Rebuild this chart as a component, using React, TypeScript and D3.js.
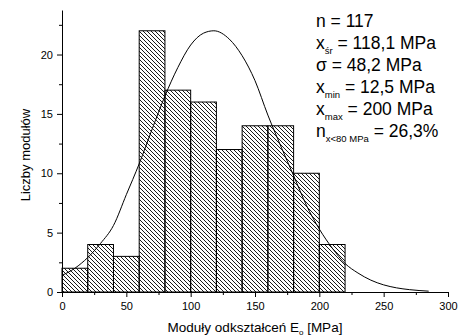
import React, { useEffect, useRef } from "react";
import * as d3 from "d3";

// histogram bins (lower edge, MPa) and counts
const binStarts = [0, 20, 40, 60, 80, 100, 120, 140, 160, 180, 200];
const binWidth = 20;
const counts = [2, 4, 3, 22, 17, 16, 12, 14, 14, 10, 4];

// fitted curve
const curveX = [0, 10, 20, 30, 40, 50, 60, 70, 80, 90, 100, 110, 118, 130, 140, 150, 160, 170, 180, 190, 200, 210, 220, 230, 240, 250, 260, 270, 285];
const curveY = [1.4, 2.0, 2.9, 4.1, 5.6, 8.2, 10.8, 13.7, 16.5, 18.9, 20.8, 21.8, 22.0, 21.3, 19.9, 17.8, 14.9, 12.3, 9.8, 7.3, 5.3, 3.7, 2.4, 1.6, 1.0, 0.6, 0.35, 0.2, 0.07];

const xTicks = [0, 50, 100, 150, 200, 250, 300];
const xMinor = [25, 75, 125, 175, 225, 275];
const yTicks = [0, 5, 10, 15, 20];
const yMinor = [2.5, 7.5, 12.5, 17.5, 22.5];

const statMain = ["n", "x", "\u03c3", "x", "x", "n"];
const statSub = ["", "\u015br", "", "min", "max", "x<80 MPa"];
const statRest = [" = 117", " = 118,1 MPa", " = 48,2 MPa", " = 12,5 MPa", " = 200 MPa", " = 26,3%"];

const xTitle = "Moduły odkształceń E";
const xTitleSub = "o";
const xTitleRest = " [MPa]";
const yTitle = "Liczby modułów";

export default function App() {
    const ref = useRef<SVGSVGElement>(null);

    useEffect(() => {
        const width = 468, height = 336;
        const font = "Arial, 'Liberation Sans', sans-serif";

        const svg = d3.select(ref.current);
        svg.selectAll("*").remove();
        svg.attr("width", width).attr("height", height);

        const x = d3.scaleLinear().domain([0, 300]).range([62, 448]);
        const y = d3.scaleLinear().domain([0, 23.75]).range([292, 10]);

        const pat = svg.append("defs").append("pattern")
            .attr("id", "hatch")
            .attr("patternUnits", "userSpaceOnUse")
            .attr("width", 4).attr("height", 4);
        pat.append("path")
            .attr("d", "M-1,-1 L5,5 M-1,3 L1,5 M3,-1 L5,1")
            .attr("stroke", "#000").attr("stroke-width", 0.9);

        svg.append("g").selectAll("rect")
            .data(counts)
            .enter()
            .append("rect")
            .attr("x", (d, i) => x(binStarts[i]))
            .attr("y", d => y(d))
            .attr("width", (d, i) => x(binStarts[i] + binWidth) - x(binStarts[i]))
            .attr("height", d => y(0) - y(d))
            .attr("fill", "url(#hatch)")
            .attr("stroke", "#000")
            .attr("stroke-width", 1);

        const line = d3.line<number>()
            .x((d, i) => x(curveX[i]))
            .y(d => y(d))
            .curve(d3.curveMonotoneX);
        svg.append("path")
            .attr("d", line(curveY))
            .attr("fill", "none")
            .attr("stroke", "#000")
            .attr("stroke-width", 1);

        // axes
        const gx = svg.append("g")
            .attr("transform", `translate(0,${y(0)})`)
            .call(d3.axisBottom(x).tickValues(xTicks).tickSize(5).tickSizeOuter(0).tickPadding(5));
        svg.append("g")
            .attr("transform", `translate(0,${y(0)})`)
            .call(d3.axisBottom(x).tickValues(xMinor).tickSize(3).tickFormat(() => ""))
            .select(".domain").remove();
        const gy = svg.append("g")
            .attr("transform", `translate(${x(0)},0)`)
            .call(d3.axisLeft(y).tickValues(yTicks).tickSize(5).tickSizeOuter(0).tickPadding(4));
        svg.append("g")
            .attr("transform", `translate(${x(0)},0)`)
            .call(d3.axisLeft(y).tickValues(yMinor).tickSize(3).tickFormat(() => ""))
            .select(".domain").remove();

        svg.selectAll(".tick text")
            .attr("font-family", font)
            .attr("font-size", 11)
            .attr("fill", "#000");
        gx.select(".domain").attr("stroke", "#000");
        gy.select(".domain").attr("stroke", "#000");

        // axis titles
        const tx = svg.append("text")
            .attr("x", (x(0) + x(300)) / 2)
            .attr("y", 332)
            .attr("text-anchor", "middle")
            .attr("font-family", font)
            .attr("font-size", 13.5);
        tx.append("tspan").text(xTitle);
        tx.append("tspan").attr("font-size", 8).attr("dy", 3).text(xTitleSub);
        tx.append("tspan").attr("dy", -3).text(xTitleRest);

        svg.append("text")
            .attr("transform", `translate(30,155) rotate(-90)`)
            .attr("text-anchor", "middle")
            .attr("font-family", font)
            .attr("font-size", 13)
            .text(yTitle);

        // statistics box
        const stats = svg.append("g")
            .attr("font-family", font)
            .attr("font-size", 17.5);
        statMain.forEach((m, i) => {
            const t = stats.append("text")
                .attr("x", 316)
                .attr("y", 27 + i * 22);
            t.append("tspan").text(m);
            if (statSub[i]) {
                t.append("tspan").attr("font-size", 9.5).attr("dy", 4.5).text(statSub[i]);
                t.append("tspan").attr("dy", -4.5).text(statRest[i]);
            } else {
                t.append("tspan").text(statRest[i]);
            }
        });
    }, []);

    return (
        <svg ref={ref} style={{ position: "absolute", left: 0, top: 0 }}></svg>
    );
}
